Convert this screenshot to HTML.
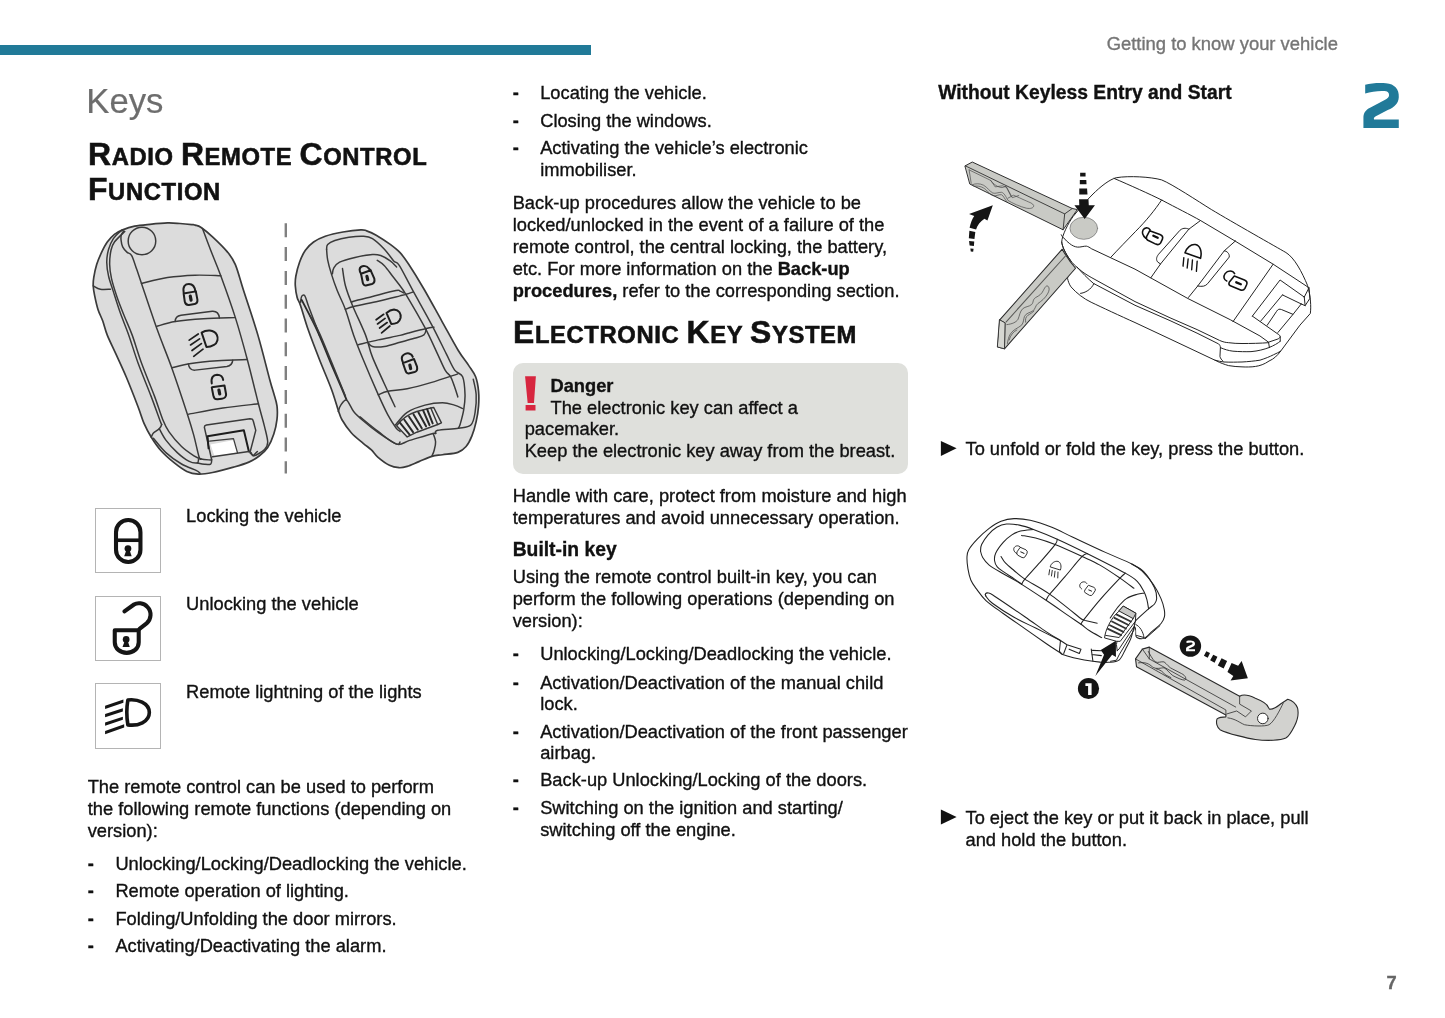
<!DOCTYPE html>
<html><head><meta charset="utf-8">
<style>
html,body{margin:0;padding:0;background:#fff;}
body{width:1445px;height:1018px;position:relative;overflow:hidden;font-family:"Liberation Sans",sans-serif;color:#111;}
.t{position:absolute;white-space:nowrap;font-size:18px;line-height:22px;height:22px;-webkit-text-stroke:0.35px currentColor;}
.b{font-weight:bold;}
.h{position:absolute;white-space:nowrap;font-weight:bold;transform-origin:0 0;transform:scaleX(1);-webkit-text-stroke:0.55px #111;letter-spacing:0.6px;}
.box{position:absolute;width:64px;height:63.6px;border:1px solid #b4b4b4;background:#fff;}
svg{position:absolute;overflow:visible;}
</style></head><body>
<div style="position:absolute;left:0;top:45.4px;width:590.7px;height:9.6px;background:#217a98"></div>
<div id="txt" style="position:absolute;left:0;top:0;width:1445px;height:1018px;will-change:transform;">
<div class="t " style="left:86.3px;top:80.68px;font-size:34.7px;color:#6d6d6d;height:40px;line-height:40px;-webkit-text-stroke:0.2px currentColor;">Keys</div>
<div class="t " style="left:186.1px;top:505.17px;font-size:18.27px;">Locking the vehicle</div>
<div class="t " style="left:186.1px;top:593.47px;font-size:18.27px;">Unlocking the vehicle</div>
<div class="t " style="left:186.1px;top:680.87px;font-size:18.27px;">Remote lightning of the lights</div>
<div class="t " style="left:87.7px;top:775.77px;font-size:18.27px;">The remote control can be used to perform</div>
<div class="t " style="left:87.7px;top:797.77px;font-size:18.27px;">the following remote functions (depending on</div>
<div class="t " style="left:87.7px;top:819.77px;font-size:18.27px;">version):</div>
<div class="t b" style="left:87.7px;top:852.67px;font-size:18.27px;">-</div>
<div class="t " style="left:115.4px;top:852.67px;font-size:18.27px;">Unlocking/Locking/Deadlocking the vehicle.</div>
<div class="t b" style="left:87.7px;top:880.17px;font-size:18.27px;">-</div>
<div class="t " style="left:115.4px;top:880.17px;font-size:18.27px;">Remote operation of lighting.</div>
<div class="t b" style="left:87.7px;top:907.67px;font-size:18.27px;">-</div>
<div class="t " style="left:115.4px;top:907.67px;font-size:18.27px;">Folding/Unfolding the door mirrors.</div>
<div class="t b" style="left:87.7px;top:935.17px;font-size:18.27px;">-</div>
<div class="t " style="left:115.4px;top:935.17px;font-size:18.27px;">Activating/Deactivating the alarm.</div>
<div class="t b" style="left:512.7px;top:82.17px;font-size:18.27px;">-</div>
<div class="t " style="left:540.2px;top:82.17px;font-size:18.27px;">Locating the vehicle.</div>
<div class="t b" style="left:512.7px;top:109.87px;font-size:18.27px;">-</div>
<div class="t " style="left:540.2px;top:109.87px;font-size:18.27px;">Closing the windows.</div>
<div class="t b" style="left:512.7px;top:137.47px;font-size:18.27px;">-</div>
<div class="t " style="left:540.2px;top:137.47px;font-size:18.27px;">Activating the vehicle’s electronic</div>
<div class="t " style="left:540.2px;top:159.27px;font-size:18.27px;">immobiliser.</div>
<div class="t " style="left:512.7px;top:192.17px;font-size:18.27px;">Back-up procedures allow the vehicle to be</div>
<div class="t " style="left:512.7px;top:214.17px;font-size:18.27px;">locked/unlocked in the event of a failure of the</div>
<div class="t " style="left:512.7px;top:236.17px;font-size:18.27px;">remote control, the central locking, the battery,</div>
<div class="t " style="left:512.7px;top:258.17px;font-size:18.27px;">etc. For more information on the <b>Back-up</b></div>
<div class="t " style="left:512.7px;top:280.17px;font-size:18.27px;"><b>procedures,</b> refer to the corresponding section.</div>
<div style="position:absolute;left:513px;top:363px;width:395px;height:111px;border-radius:10px;background:#dfe0dc"></div>
<div class="t b" style="left:550.5px;top:375.07px;font-size:18.27px;">Danger</div>
<div class="t " style="left:550.5px;top:396.77px;font-size:18.27px;">The electronic key can affect a</div>
<div class="t " style="left:524.7px;top:418.47px;font-size:18.27px;">pacemaker.</div>
<div class="t " style="left:524.7px;top:440.17px;font-size:18.27px;">Keep the electronic key away from the breast.</div>
<div class="t " style="left:512.7px;top:484.67px;font-size:18.27px;">Handle with care, protect from moisture and high</div>
<div class="t " style="left:512.7px;top:506.67px;font-size:18.27px;">temperatures and avoid unnecessary operation.</div>
<div class="t b" style="left:512.7px;top:539.21px;font-size:19.3px;">Built-in key</div>
<div class="t " style="left:512.7px;top:566.47px;font-size:18.27px;">Using the remote control built-in key, you can</div>
<div class="t " style="left:512.7px;top:588.47px;font-size:18.27px;">perform the following operations (depending on</div>
<div class="t " style="left:512.7px;top:610.47px;font-size:18.27px;">version):</div>
<div class="t b" style="left:512.7px;top:643.37px;font-size:18.27px;">-</div>
<div class="t " style="left:540.2px;top:643.37px;font-size:18.27px;">Unlocking/Locking/Deadlocking the vehicle.</div>
<div class="t b" style="left:512.7px;top:671.57px;font-size:18.27px;">-</div>
<div class="t " style="left:540.2px;top:671.57px;font-size:18.27px;">Activation/Deactivation of the manual child</div>
<div class="t " style="left:540.2px;top:693.07px;font-size:18.27px;">lock.</div>
<div class="t b" style="left:512.7px;top:720.67px;font-size:18.27px;">-</div>
<div class="t " style="left:540.2px;top:720.67px;font-size:18.27px;">Activation/Deactivation of the front passenger</div>
<div class="t " style="left:540.2px;top:742.17px;font-size:18.27px;">airbag.</div>
<div class="t b" style="left:512.7px;top:769.17px;font-size:18.27px;">-</div>
<div class="t " style="left:540.2px;top:769.17px;font-size:18.27px;">Back-up Unlocking/Locking of the doors.</div>
<div class="t b" style="left:512.7px;top:797.17px;font-size:18.27px;">-</div>
<div class="t " style="left:540.2px;top:797.17px;font-size:18.27px;">Switching on the ignition and starting/</div>
<div class="t " style="left:540.2px;top:819.17px;font-size:18.27px;">switching off the engine.</div>
<div class="t " style="left:1106.7px;top:32.62px;font-size:18.42px;color:#757575;">Getting to know your vehicle</div>
<div class="t b" style="left:938.2px;top:81.81px;font-size:19.3px;">Without Keyless Entry and Start</div>
<div class="t " style="left:965.5px;top:438.37px;font-size:18.27px;">To unfold or fold the key, press the button.</div>
<div class="t " style="left:965.5px;top:807.17px;font-size:18.27px;">To eject the key or put it back in place, pull</div>
<div class="t " style="left:965.5px;top:828.87px;font-size:18.27px;">and hold the button.</div>
<div class="t b" style="left:1386.5px;top:971.57px;font-size:18.27px;color:#666;">7</div>
<div class="h" data-w="337" style="left:87.6px;top:135.03px;line-height:40px;height:40px;transform:scaleX(1.035);"><span style="font-size:30.8px">R</span><span style="font-size:23.0px">ADIO </span><span style="font-size:30.8px">R</span><span style="font-size:23.0px">EMOTE </span><span style="font-size:30.8px">C</span><span style="font-size:23.0px">ONTROL</span></div>
<div class="h" data-w="0" style="left:87.6px;top:170.03px;line-height:40px;height:40px;transform:scaleX(1.035);"><span style="font-size:30.8px">F</span><span style="font-size:23.0px">UNCTION</span></div>
<div class="h" data-w="341" style="left:512.6px;top:313.13px;line-height:40px;height:40px;transform:scaleX(1.035);"><span style="font-size:30.8px">E</span><span style="font-size:23.0px">LECTRONIC </span><span style="font-size:30.8px">K</span><span style="font-size:23.0px">EY </span><span style="font-size:30.8px">S</span><span style="font-size:23.0px">YSTEM</span></div>
<div class="box" style="left:95.1px;top:507.9px"></div>
<div class="box" style="left:95.1px;top:595.9px"></div>
<div class="box" style="left:95.1px;top:683.2px"></div>
</div>
<svg width="1445" height="1018" viewBox="0 0 1445 1018" style="left:0;top:0" fill="none" stroke-linecap="round" stroke-linejoin="round">
<line x1="285.8" y1="223.3" x2="285.8" y2="473.6" stroke="#808080" stroke-width="2.4" stroke-dasharray="14 9.8" stroke-linecap="butt"/>
<g transform="translate(85,215) scale(0.26518)" stroke="#3a3a3a" stroke-width="5.6">
<path fill="#dcdcdc" stroke-width="6.4" d="M415.0,38.0 C409.2,36.2 412.5,37.0 403.0,36.0 C393.5,35.0 373.3,33.0 358.0,32.0 C342.7,31.0 329.8,29.5 311.0,30.0 C292.2,30.5 265.7,33.0 245.0,35.0 C224.3,37.0 204.2,38.5 187.0,42.0 C169.8,45.5 154.7,50.8 142.0,56.0 C129.3,61.2 120.7,65.3 111.0,73.0 C101.3,80.7 92.2,90.5 84.0,102.0 C75.8,113.5 68.7,127.8 62.0,142.0 C55.3,156.2 48.8,171.3 44.0,187.0 C39.2,202.7 35.2,222.7 33.0,236.0 C30.8,249.3 30.5,256.0 31.0,267.0 C31.5,278.0 33.0,287.2 36.0,302.0 C39.0,316.8 43.8,339.7 49.0,356.0 C54.2,372.3 61.2,383.8 67.0,400.0 C72.8,416.2 75.8,432.5 84.0,453.0 C92.2,473.5 104.0,496.5 116.0,523.0 C128.0,549.5 142.0,578.7 156.0,612.0 C170.0,645.3 188.8,693.8 200.0,723.0 C211.2,752.2 214.7,767.8 223.0,787.0 C231.3,806.2 239.5,821.2 250.0,838.0 C260.5,854.8 271.5,871.8 286.0,888.0 C300.5,904.2 320.7,921.8 337.0,935.0 C353.3,948.2 369.0,960.0 384.0,967.0 C399.0,974.0 410.8,976.3 427.0,977.0 C443.2,977.7 458.8,975.3 481.0,971.0 C503.2,966.7 537.2,957.5 560.0,951.0 C582.8,944.5 601.7,939.2 618.0,932.0 C634.3,924.8 646.2,917.2 658.0,908.0 C669.8,898.8 680.0,890.7 689.0,877.0 C698.0,863.3 706.2,843.7 712.0,826.0 C717.8,808.3 722.0,788.7 724.0,771.0 C726.0,753.3 726.0,736.3 724.0,720.0 C722.0,703.7 716.5,689.3 712.0,673.0 C707.5,656.7 707.0,658.7 697.0,622.0 C687.0,585.3 668.5,509.2 652.0,453.0 C635.5,396.8 612.2,329.3 598.0,285.0 C583.8,240.7 577.3,211.5 567.0,187.0 C556.7,162.5 550.0,155.2 536.0,138.0 C522.0,120.8 499.3,99.2 483.0,84.0 C466.7,68.8 449.3,54.7 438.0,47.0 C426.7,39.3 420.8,39.8 415.0,38.0 Z"/>
<path d="M31.0,267.0 C35.5,269.2 47.2,277.8 58.0,280.0 C68.8,282.2 89.7,280.0 96.0,280.0"/>
<path d="M142.0,56.0 C140.5,57.0 138.8,56.5 133.0,62.0 C127.2,67.5 114.3,77.8 107.0,89.0 C99.7,100.2 93.2,114.2 89.0,129.0 C84.8,143.8 82.0,161.0 82.0,178.0 C82.0,195.0 84.8,212.5 89.0,231.0 C93.2,249.5 99.7,266.0 107.0,289.0 C114.3,312.0 123.3,341.7 133.0,369.0 C142.7,396.3 153.8,421.5 165.0,453.0 C176.2,484.5 186.0,519.7 200.0,558.0 C214.0,596.3 234.8,645.8 249.0,683.0 C263.2,720.2 278.3,763.2 285.0,781.0 C291.7,798.8 289.8,785.8 289.0,790.0 C288.2,794.2 285.2,800.7 280.0,806.0 C274.8,811.3 263.0,816.7 258.0,822.0 C253.0,827.3 251.3,835.3 250.0,838.0"/>
<path d="M150.0,62.0 C143.5,68.7 119.7,90.2 111.0,102.0 C102.3,113.8 101.0,118.8 98.0,133.0 C95.0,147.2 92.7,169.2 93.0,187.0 C93.3,204.8 95.5,220.0 100.0,240.0 C104.5,260.0 112.2,284.0 120.0,307.0 C127.8,330.0 137.3,353.7 147.0,378.0 C156.7,402.3 167.0,423.0 178.0,453.0 C189.0,483.0 199.0,519.7 213.0,558.0 C227.0,596.3 248.7,647.5 262.0,683.0 C275.3,718.5 283.8,748.5 293.0,771.0 C302.2,793.5 305.2,801.0 317.0,818.0 C328.8,835.0 348.3,858.0 364.0,873.0 C379.7,888.0 398.7,900.2 411.0,908.0 C423.3,915.8 427.5,917.3 438.0,920.0 C448.5,922.7 468.0,923.3 474.0,924.0"/>
<path d="M280.0,806.0 C284.2,813.2 293.7,834.0 305.0,849.0 C316.3,864.0 333.7,882.8 348.0,896.0 C362.3,909.2 378.5,921.5 391.0,928.0 C403.5,934.5 416.8,936.0 423.0,935.0 C429.2,934.0 427.2,924.2 428.0,922.0"/>
<path d="M423.0,935.0 C427.5,935.8 441.5,939.3 450.0,940.0 C458.5,940.7 469.3,942.0 474.0,939.0 C478.7,936.0 477.3,924.8 478.0,922.0"/>
<path d="M258.0,842.0 C265.8,851.0 287.3,879.8 305.0,896.0 C322.7,912.2 345.0,927.8 364.0,939.0 C383.0,950.2 407.3,957.2 419.0,963.0 C430.7,968.8 431.5,972.2 434.0,974.0"/>
<path d="M146.0,60.0 C144.5,62.5 138.7,69.2 137.0,75.0 C135.3,80.8 135.2,87.5 136.0,95.0 C136.8,102.5 138.3,112.5 142.0,120.0 C145.7,127.5 152.3,134.5 158.0,140.0 C163.7,145.5 169.8,142.2 176.0,153.0 C182.2,163.8 188.8,187.5 195.0,205.0 C201.2,222.5 200.0,219.8 213.0,258.0 C226.0,296.2 254.0,381.0 273.0,434.0 C292.0,487.0 308.0,522.7 327.0,576.0 C346.0,629.3 373.2,711.7 387.0,754.0 C400.8,796.3 402.8,803.7 410.0,830.0 C417.2,856.3 425.3,897.0 430.0,912.0 C434.7,927.0 436.7,918.7 438.0,920.0"/>
<path d="M443.0,51.0 C448.2,64.7 462.5,103.3 474.0,133.0 C485.5,162.7 496.5,186.7 512.0,229.0 C527.5,271.3 550.3,334.3 567.0,387.0 C583.7,439.7 597.5,490.8 612.0,545.0 C626.5,599.2 643.2,669.8 654.0,712.0 C664.8,754.2 671.2,773.8 677.0,798.0 C682.8,822.2 689.0,842.7 689.0,857.0 C689.0,871.3 685.5,875.5 677.0,884.0 C668.5,892.5 646.5,906.0 638.0,908.0 C629.5,910.0 628.0,898.0 626.0,896.0"/>
<circle cx="214.8" cy="97.8" r="52"/>
<path d="M213.0,258.0 C229.3,254.3 277.3,241.2 311.0,236.0 C344.7,230.8 381.5,228.2 415.0,227.0 C448.5,225.8 495.8,228.7 512.0,229.0"/>
<path d="M270.0,420.0 C281.7,417.0 310.5,406.8 340.0,402.0 C369.5,397.2 409.2,393.5 447.0,391.0 C484.8,388.5 547.0,387.7 567.0,387.0"/>
<path d="M340,402 C340,388 348,380 362,378 L480,363 C496,362 505,372 507,388"/>
<path d="M327.0,576.0 C339.2,573.3 371.2,564.3 400.0,560.0 C428.8,555.7 464.7,552.5 500.0,550.0 C535.3,547.5 593.3,545.8 612.0,545.0"/>
<path d="M390,562 C392,578 400,586 415,585 L535,571 C550,568 556,560 557,548"/>
<path d="M391.0,751.0 C412.5,747.2 476.2,734.5 520.0,728.0 C563.8,721.5 631.7,714.7 654.0,712.0"/>
<path d="M477,920 L450,800 C450,795 453,793 458,792 L622,768 C630,768 633,770 634,775 L644,812 L622,896 L634,908 L650,892"/>
<path d="M473,865 L558,849 L572,896 L489,911 Z" fill="#fff" stroke="none"/>
<path d="M466,880 L462,834 L599,812 L618,892" stroke-width="7.5" stroke="#1c1c1c"/>
<path d="M470,853 L560,843 L575,896" stroke-width="4.6"/>
<path d="M481,912 L618,892"/>
<g stroke="#1e1e1e" stroke-width="7.6">
<path d="M372,292 C368,268 378,260 392,260 C406,260 414,270 416,288"/>
<path d="M372,296 L418,288 L424,320 C425,330 418,336 408,337 L392,339 C382,340 378,335 376,325 Z"/>
<path d="M397,306 L400,321" stroke-width="12"/>
<path d="M439.8,443.4 C450,437 462,435 470.9,435.6 C484,437 493,444 496.9,451.2 C500,458 501,466 499.5,471.9 C497,481 492,487 486.5,490.1 C478,495 468,498 458,497.9 Z"/>
<path d="M393,472 L427,448.6 M398,490 L432,467 M403.5,511 L439,485 M410,533 L445,506" stroke-width="6.5"/>
<path d="M478,635 C474,612 484,603 498,602 C512,602 520,612 521,622"/>
<path d="M478,650 L526,643 L532,676 C533,686 526,692 516,693 L500,695 C490,696 486,691 484,681 Z"/>
<path d="M505,660 L508,675" stroke-width="12"/>
</g>
</g></svg><svg width="1445" height="1018" viewBox="0 0 1445 1018" style="left:0;top:0" fill="none" stroke-linecap="round" stroke-linejoin="round">
<g transform="translate(290,215) scale(0.26518)" stroke="#3a3a3a" stroke-width="5.6">
<path fill="#dcdcdc" stroke-width="6.4" d="M20.0,267.0 C19.2,253.7 19.3,245.8 22.0,231.0 C24.7,216.2 30.0,194.3 36.0,178.0 C42.0,161.7 49.2,145.7 58.0,133.0 C66.8,120.3 76.5,110.8 89.0,102.0 C101.5,93.2 114.5,86.3 133.0,80.0 C151.5,73.7 177.7,68.0 200.0,64.0 C222.3,60.0 252.2,56.7 267.0,56.0 C281.8,55.3 279.3,56.7 289.0,60.0 C298.7,63.3 310.2,67.5 325.0,76.0 C339.8,84.5 363.0,100.0 378.0,111.0 C393.0,122.0 403.5,129.7 415.0,142.0 C426.5,154.3 432.0,162.2 447.0,185.0 C462.0,207.8 484.2,243.3 505.0,279.0 C525.8,314.7 550.5,360.5 572.0,399.0 C593.5,437.5 617.2,482.2 634.0,510.0 C650.8,537.8 662.0,549.3 673.0,566.0 C684.0,582.7 693.7,593.7 700.0,610.0 C706.3,626.3 709.2,645.5 711.0,664.0 C712.8,682.5 712.5,701.8 711.0,721.0 C709.5,740.2 706.2,760.3 702.0,779.0 C697.8,797.7 692.3,817.3 686.0,833.0 C679.7,848.7 672.8,862.7 664.0,873.0 C655.2,883.3 647.8,889.8 633.0,895.0 C618.2,900.2 591.3,901.5 575.0,904.0 C558.7,906.5 549.8,905.7 535.0,910.0 C520.2,914.3 501.5,923.7 486.0,930.0 C470.5,936.3 454.5,944.2 442.0,948.0 C429.5,951.8 422.2,953.7 411.0,953.0 C399.8,952.3 388.3,950.7 375.0,944.0 C361.7,937.3 342.3,922.7 331.0,913.0 C319.7,903.3 316.2,894.7 307.0,886.0 C297.8,877.3 288.7,871.8 276.0,861.0 C263.3,850.2 244.3,835.8 231.0,821.0 C217.7,806.2 204.2,786.2 196.0,772.0 C187.8,757.8 188.7,755.3 182.0,736.0 C175.3,716.7 167.8,687.8 156.0,656.0 C144.2,624.2 125.5,582.0 111.0,545.0 C96.5,508.0 80.8,467.8 69.0,434.0 C57.2,400.2 47.0,362.5 40.0,342.0 C33.0,321.5 30.3,323.5 27.0,311.0 C23.7,298.5 20.8,280.3 20.0,267.0 Z"/>
<path d="M138.0,129.0 C138.7,126.0 136.8,116.5 142.0,111.0 C147.2,105.5 155.7,100.5 169.0,96.0 C182.3,91.5 204.2,86.7 222.0,84.0 C239.8,81.3 261.2,79.2 276.0,80.0 C290.8,80.8 297.7,80.8 311.0,89.0 C324.3,97.2 342.7,115.0 356.0,129.0 C369.3,143.0 381.7,162.8 391.0,173.0 C400.3,183.2 399.7,170.8 412.0,190.0 C424.3,209.2 444.3,250.2 465.0,288.0 C485.7,325.8 515.3,377.8 536.0,417.0 C556.7,456.2 574.8,495.0 589.0,523.0 C603.2,551.0 610.7,570.5 621.0,585.0 C631.3,599.5 644.5,594.7 651.0,610.0 C657.5,625.3 659.3,656.2 660.0,677.0 C660.7,697.8 658.0,716.5 655.0,735.0 C652.0,753.5 645.3,776.5 642.0,788.0 C638.7,799.5 636.2,801.3 635.0,804.0"/>
<path d="M138.0,129.0 C138.7,135.7 139.0,153.5 142.0,169.0 C145.0,184.5 150.0,202.7 156.0,222.0 C162.0,241.3 169.2,262.7 178.0,285.0 C186.8,307.3 198.7,328.0 209.0,356.0 C219.3,384.0 228.8,421.5 240.0,453.0 C251.2,484.5 261.2,509.0 276.0,545.0 C290.8,581.0 313.5,634.2 329.0,669.0 C344.5,703.8 357.2,731.7 369.0,754.0 C380.8,776.3 392.3,792.7 400.0,803.0 C407.7,813.3 412.5,813.8 415.0,816.0"/>
<path d="M160.0,222.0 C160.8,218.3 160.5,207.3 165.0,200.0 C169.5,192.7 173.7,184.7 187.0,178.0 C200.3,171.3 224.3,164.8 245.0,160.0 C265.7,155.2 294.8,150.2 311.0,149.0 C327.2,147.8 330.8,149.0 342.0,153.0 C353.2,157.0 368.0,165.8 378.0,173.0 C388.0,180.2 398.0,192.2 402.0,196.0"/>
<path d="M329.0,171.0 C333.5,174.3 346.3,181.0 356.0,191.0 C365.7,201.0 377.2,218.3 387.0,231.0 C396.8,243.7 406.5,255.3 415.0,267.0 C423.5,278.7 422.3,274.7 438.0,301.0 C453.7,327.3 489.7,388.7 509.0,425.0 C528.3,461.3 541.3,492.3 554.0,519.0 C566.7,545.7 576.3,569.8 585.0,585.0 C593.7,600.2 600.2,599.8 606.0,610.0 C611.8,620.2 615.5,633.3 620.0,646.0 C624.5,658.7 630.8,679.3 633.0,686.0"/>
<path d="M198.0,202.0 C199.8,212.8 202.7,243.7 209.0,267.0 C215.3,290.3 223.3,311.0 236.0,342.0 C248.7,373.0 272.5,420.7 285.0,453.0 C297.5,485.3 297.0,500.7 311.0,536.0 C325.0,571.3 354.8,633.8 369.0,665.0 C383.2,696.2 391.5,713.3 396.0,723.0"/>
<path d="M232.0,330.0 C233.3,329.2 226.8,328.8 240.0,325.0 C253.2,321.2 284.3,313.7 311.0,307.0 C337.7,300.3 382.7,288.3 400.0,285.0 C417.3,281.7 410.2,285.5 415.0,287.0 C419.8,288.5 426.7,292.8 429.0,294.0"/>
<path d="M209.0,356.0 C214.2,354.2 219.3,350.2 240.0,345.0 C260.7,339.8 303.8,331.7 333.0,325.0 C362.2,318.3 397.5,309.3 415.0,305.0 C432.5,300.7 429.7,301.5 438.0,299.0 C446.3,296.5 460.5,291.5 465.0,290.0"/>
<path d="M258.0,489.0 C270.5,486.0 306.8,476.8 333.0,471.0 C359.2,465.2 396.0,458.3 415.0,454.0 C434.0,449.7 430.5,449.3 447.0,445.0 C463.5,440.7 498.0,431.7 514.0,428.0 C530.0,424.3 538.2,423.8 543.0,423.0"/>
<path d="M293.0,480.0 C296.0,482.7 300.5,493.3 311.0,496.0 C321.5,498.7 338.7,498.7 356.0,496.0 C373.3,493.3 396.2,485.2 415.0,480.0 C433.8,474.8 454.0,469.7 469.0,465.0 C484.0,460.3 497.5,457.8 505.0,452.0 C512.5,446.2 512.5,433.7 514.0,430.0"/>
<path d="M333.0,678.0 C339.0,675.8 350.8,668.8 369.0,665.0 C387.2,661.2 415.0,660.5 442.0,655.0 C469.0,649.5 499.2,641.3 531.0,632.0 C562.8,622.7 616.0,604.5 633.0,599.0"/>
<path d="M40.0,329.0 C40.7,325.3 41.3,311.0 44.0,307.0 C46.7,303.0 51.5,298.3 56.0,305.0 C60.5,311.7 61.8,322.3 71.0,347.0 C80.2,371.7 104.3,435.3 111.0,453.0"/>
<path d="M44.0,320.0 C53.7,339.0 83.3,393.5 102.0,434.0 C120.7,474.5 140.3,526.0 156.0,563.0 C171.7,600.0 186.5,633.8 196.0,656.0 C205.5,678.2 210.2,689.3 213.0,696.0" stroke-width="7" stroke="#2a2a2a"/>
<path d="M75.0,380.0 C81.3,391.7 90.7,399.5 113.0,450.0 C135.3,500.5 193.0,644.2 209.0,683.0"/>
<path d="M182.0,741.0 C183.5,737.2 185.8,725.2 191.0,718.0 C196.2,710.8 204.8,694.2 213.0,698.0 C221.2,701.8 229.5,728.0 240.0,741.0 C250.5,754.0 260.5,762.7 276.0,776.0 C291.5,789.3 312.3,806.5 333.0,821.0 C353.7,835.5 386.3,857.2 400.0,863.0 C413.7,868.8 412.5,857.2 415.0,856.0"/>
<path d="M691.0,619.0 C692.8,628.7 700.8,656.2 702.0,677.0 C703.2,697.8 701.3,724.8 698.0,744.0 C694.7,763.2 692.5,782.0 682.0,792.0 C671.5,802.0 655.8,800.7 635.0,804.0 C614.2,807.3 571.3,808.7 557.0,812.0 C542.7,815.3 550.3,822.0 549.0,824.0"/>
<path d="M264.0,761.0 C275.2,770.0 308.0,797.8 331.0,815.0 C354.0,832.2 382.0,858.2 402.0,864.0 C422.0,869.8 428.0,856.7 451.0,850.0 C474.0,843.3 523.7,828.3 540.0,824.0 C556.3,819.7 547.5,824.0 549.0,824.0"/>
<path d="M540.0,824.0 C541.5,829.2 548.3,844.7 549.0,855.0 C549.7,865.3 546.3,876.8 544.0,886.0 C541.7,895.2 536.5,906.0 535.0,910.0"/>
<path d="M397.0,792.0 C404.5,784.0 423.3,756.5 442.0,744.0 C460.7,731.5 486.8,723.0 509.0,717.0 C531.2,711.0 556.5,708.0 575.0,708.0 C593.5,708.0 607.3,713.3 620.0,717.0 C632.7,720.7 645.8,727.8 651.0,730.0"/>
<path d="M402,795 C420,770 450,750 478,741 L531,728 L542,726 L571,784 L557,790 L478,819 L442,837 Z" fill="#e6e6e6"/>
<path d="M531,728 L557,790"/>
<path d="M415,784 L451,828 M431,772 L464,819 M449,761 L482,810 M466,752 L497,804 M484,744 L513,797 M502,737 L526,792 M517,732 L538,786" stroke="#2a2a2a" stroke-width="7.5"/>
<g stroke="#1e1e1e" stroke-width="7.6">
<path d="M267.8,221.5 L304.1,208.6 L318,240 C320,250 316,258 309,260.4 L286,265.6 C278,267 274,258 273,247.5 Z"/>
<path d="M267.8,221.5 C262,212 260,202 267.8,195.6 C276,190 290,192 296.3,200.8 C300,205 303,208 304.1,209"/>
<path d="M290,231 L293,244" stroke-width="12"/>
<path d="M363.7,369.3 C372,362 382,357 392.2,356.3 C402,357 409,361 412.9,366.7 C417,373 418,381 417.1,387.4 C415,396 411,402 405.2,405.6 C398,409 390,411 381.8,410.8 Z"/>
<path d="M324.8,395.2 L353.3,374.5 M330,410.8 L358.5,390 M337.8,426.3 L366.3,405.6 M345.5,444.5 L376.6,418.5" stroke-width="6.5"/>
<path d="M425.9,558.5 L467.4,543 L479,572 C481,582 477,590 470,592.2 L447,597.4 C440,598 436,590 433.7,581.8 Z"/>
<path d="M425.9,556 C421,545 420,538 423.3,532.6 C428,525 440,520 449.2,522.2 C456,524 461,528 463,535"/>
<path d="M452,566 L455,579" stroke-width="12"/>
</g>
</g></svg><svg width="1445" height="1018" viewBox="0 0 1445 1018" style="left:0;top:0" fill="none" stroke-linecap="round" stroke-linejoin="round">
<!-- FOB body : crop (1060,160) scale 1/4.626 -->
<g transform="translate(1060,160) scale(0.21617)" stroke="#222" stroke-width="4.6">
  <path fill="#fff" d="M150,160 C190,120 230,90 260,82 C320,72 420,78 470,92 C520,112 640,192 700,229 C800,289 1000,402 1045,428 C1085,452 1120,520 1145,580 C1160,630 1162,680 1158,710 L1110,764 L1021,884 C1005,905 990,920 967,930 C945,945 925,952 904,955 C885,958 860,958 842,957 C820,956 800,955 779,951 C760,945 740,938 725,930 L509,828 L347,752 C280,722 190,680 144,658 C110,642 75,615 51,587 C42,575 38,560 35,549 L46,461 C25,430 10,400 8,380 C8,350 40,290 60,262 C90,225 120,190 150,160 Z"/>
  <ellipse cx="110" cy="316" rx="64" ry="51" fill="#c9cac5" stroke="#777" stroke-width="3.5"/>
  <!-- top face front edge + arm end -->
  <path d="M6,346 C10,355 14,358 17,360 C25,370 35,380 45,387 C55,395 68,402 81,403 C95,404 110,398 122,398.5 C130,400 138,405 144.5,410 L347,505 L592,641 L788,739 L925,814 L964.6,842.8 L1008,828 C1014,825 1018,822 1018.7,817.8 C1018,812 1014,808 1008.3,805.3 L889.7,722.1"/>
  <path d="M964.6,842.8 L968.8,867.8"/>
  <path d="M1018.7,817.8 L1018.7,838.6"/>
  <!-- L2 -->
  <path d="M8,380 C10,400 25,435 46,461 C60,480 75,495 89,505 C105,520 125,532 144,543 L347,655 L509,730 L634,784.5 L738,834.5 C755,842 765,844 779,845 C800,848 820,849 842,849 C880,849 930,848 964.6,845"/>
  <!-- L3 -->
  <path d="M78,494 C100,520 130,550 155,571 L347,672 L509,743 L634,801 L734,851 C740,856 742,862 742,868 L740,909 C742,918 748,925 754,930"/>
  <path d="M742,868 C760,876 780,882 800,884.4 C830,887 860,887 883.5,886.5 C915,884 945,876 966.7,867.8 C990,858 1008,848 1018.7,838.6"/>
  <path d="M717,926 C730,930 745,933 758.6,934.4 C790,936 815,935 842,934.4 C870,933 900,930 925,926 C950,918 970,910 987.5,901 C1000,895 1012,890 1020.8,884.4"/>
  <path d="M95,617 C115,615 145,600 157,571"/>
  <!-- top face back edge -->
  <path d="M250,85 C320,115 420,160 470,185 C540,222 600,252 650,280 L810,375 L986,482 L1152,591 L1156,640 L1134,674 L1130,634" />
  <path d="M1130,634 L1018,555 L890,722"/>
  <path d="M1130,634 L1152,591" />
  <path d="M1029,624 L928,746 M1029,624 L1116,666 M1116,666 L1134,674" />
  <path d="M958,765 L1002,700 C1008,690 1015,688 1025,692 L1078,714 L1116,666 M1078,714 L1008,798"/>
  <!-- dividers -->
  <path d="M470,185 C440,230 400,280 350,330 C310,372 270,412 235,450"/>
  <path d="M650,280 L596,320 L465,481 L420,545"/>
  <path d="M596,320 C580,312 565,316 555,325 L456,436 C445,450 444,462 452,472 L465,481"/>
  <path d="M812,374 L760,420 L637,583 L594,636"/>
  <path d="M760,420 C771,420 785,432 783,449 L683,572 C672,584 660,587 637,583"/>
  <path d="M986,482 L800,748"/>
</g>
<!-- lower blade : crop (985,235) scale 1/8.48 -->
<g transform="translate(985,235) scale(0.117925)" stroke="#2a2a2a" stroke-width="9">
  <path fill="#c9cac5" d="M655,120 Q705,210 768,282 L165,965 L108,950 L125,720 Z"/>
  <path d="M125,720 L170,745 L165,965" stroke-width="7"/>
  <path d="M125,720 L170,745 L165,965 L108,950 Z" fill="#d6d7d2" stroke="none"/>
  <path d="M125,720 L170,745 L165,965 L108,950 Z" stroke-width="7"/>
  <path d="M178,738 L682,178" stroke="#5a5a58" stroke-width="9"/>
  <path d="M185,760 C230,755 265,740 280,715 C295,680 295,650 320,625 C345,605 370,610 395,590 C415,570 400,550 430,530 C460,515 480,500 495,470 C510,440 520,425 535,435 C550,450 545,475 530,500 C510,535 480,560 450,580 C425,600 430,625 405,645 C380,660 350,660 335,690 C325,715 330,740 310,765 C280,790 240,800 215,840 C200,865 195,890 190,920" stroke-width="6" stroke="#444"/>
  <path d="M345,740 C340,715 345,695 365,680 C385,668 400,660 415,645" stroke-width="6" stroke="#444"/>
  <path d="M205,890 C215,850 240,820 270,805" stroke-width="6" stroke="#444"/>
</g>
<!-- upper blade : crop (955,155) scale 1/9.253 -->
<g transform="translate(955,155) scale(0.108073)" stroke="#2a2a2a" stroke-width="9">
  <path fill="#c9cac5" d="M95,100 L160,65 L1085,495 L1132,505 L1000,692 L140,270 Z"/>
  <path d="M95,100 L1015,545 L1085,495 M1015,545 L1000,692" stroke-width="8"/>
  <path d="M130,135 L150,262 M135,140 L330,235 C350,262 380,290 420,300 C440,305 455,295 470,290" stroke-width="6" stroke="#444"/>
  <path d="M160,275 C190,262 230,262 265,280 C300,300 320,335 350,352 C375,360 400,345 430,345 C455,350 470,385 490,420 C530,445 600,478 660,492 C700,500 730,490 728,468 C720,445 690,440 660,425 C620,408 575,385 540,372 C520,380 505,395 490,400" stroke-width="6" stroke="#444"/>
  <path d="M175,290 C215,280 255,295 285,320 C310,345 330,372 360,378 C385,380 410,362 432,368 C450,380 462,410 480,432" stroke-width="6" stroke="#444"/>
  <path d="M330,235 L372,295 L440,285 L480,300 L530,395 L590,375 M470,290 L520,385" stroke-width="6" stroke="#444"/>
</g>
<!-- icons : crop (1130,210) scale 1/10.18 -->
<g transform="translate(1130,210) scale(0.09823)" stroke="#111" stroke-width="16">
  <path d="M200,212 L305,250 Q342,265 330,297 L312,335 Q296,362 262,347 L182,308 Q158,294 170,268 Z"/>
  <path d="M205,203 C188,172 148,176 132,206 C118,234 132,262 162,288"/>
  <path d="M238,262 L282,282" stroke-width="24"/>
  <path d="M560,436 C575,385 620,345 665,352 C715,362 735,420 718,492 Z"/>
  <path d="M548,485 L540,572 M592,498 L582,590 M636,508 L628,608 M684,520 L676,625" stroke-width="14"/>
  <path d="M1062,672 L1165,712 Q1200,727 1188,758 L1170,798 Q1154,826 1120,812 L1022,772 Q1000,760 1010,735 Z"/>
  <path d="M1065,648 C1045,612 995,612 968,648 C945,680 958,712 985,722"/>
  <path d="M1082,736 L1128,756" stroke-width="24"/>
</g>
<!-- arrows : crop (955,155) scale 1/9.253 -->
<g transform="translate(955,155) scale(0.108073)" fill="#151515" stroke="none">
  <path d="M130,545 L350,465 L300,605 L272,590 C235,615 205,650 195,690 L135,672 C145,630 160,590 178,565 Z"/>
  <path d="M133,700 L188,712 L180,778 L128,770 Z M130,795 L178,800 L175,842 L135,838 Z M142,865 L172,868 L168,896 L146,893 Z"/>
  <path d="M1158,165 L1208,165 L1208,200 L1158,200 Z M1155,232 L1215,232 L1217,270 L1155,270 Z M1150,310 L1222,310 L1226,365 L1150,365 Z M1148,410 L1235,410 L1238,465 L1295,465 L1200,592 L1105,465 L1150,465 Z"/>
</g>
</svg>
<svg width="1445" height="1018" viewBox="0 0 1445 1018" style="left:0;top:0" fill="none" stroke-linecap="round" stroke-linejoin="round">
<!-- SMART KEY body : crop (955,505) scale 1/5.091 -->
<g transform="translate(955,505) scale(0.196425)" stroke="#222" stroke-width="5.4">
<path fill="#fff" d="M61.0,267.5 C61.6,251.5 60.8,244.6 69.5,229.0 C78.2,213.4 96.1,192.3 113.5,174.0 C130.9,155.7 153.8,134.2 174.0,119.0 C194.2,103.8 213.4,91.2 234.5,83.0 C255.6,74.8 275.8,70.4 300.5,69.5 C325.2,68.6 350.9,70.5 383.0,77.8 C415.1,85.1 457.2,99.3 493.0,113.5 C528.8,127.7 552.8,141.9 597.7,163.0 C642.7,184.1 712.3,217.1 762.7,240.0 C813.1,262.9 868.1,284.0 900.2,300.5 C932.3,317.0 936.9,321.6 955.2,339.0 C973.5,356.4 994.6,382.1 1010.2,405.0 C1025.8,427.9 1039.5,455.4 1048.7,476.5 C1057.9,497.6 1062.3,515.9 1065.2,531.5 C1068.1,547.1 1068.5,558.2 1066.0,570.0 C1063.5,581.8 1060.2,590.0 1050.0,602.0 C1039.8,614.0 1019.7,629.2 1005.0,642.0 C990.3,654.8 975.5,673.8 962.0,679.0 C948.5,684.2 930.8,679.5 924.0,673.0 C917.2,666.5 923.0,648.5 921.0,640.0 C919.0,631.5 916.3,615.3 912.0,622.0 C907.7,628.7 902.0,662.0 895.0,680.0 C888.0,698.0 880.0,711.7 870.0,730.0 C860.0,748.3 850.0,778.2 835.0,790.0 C820.0,801.8 796.2,799.4 780.0,801.0 C763.8,802.6 758.3,801.8 738.0,799.8 C717.7,797.8 680.5,792.5 658.0,788.8 C635.5,785.1 621.3,782.4 603.0,777.8 C584.7,773.2 559.9,765.9 548.0,761.3 C536.1,756.7 545.2,759.5 531.5,750.3 C517.8,741.1 494.8,726.5 465.5,706.3 C436.2,686.1 392.2,655.0 355.5,629.3 C318.8,603.6 278.5,576.1 245.5,552.3 C212.5,528.5 180.4,507.4 157.5,486.3 C134.6,465.2 120.8,443.2 108.0,425.8 C95.2,408.4 87.5,398.6 80.5,381.8 C73.5,365.0 69.2,344.1 66.0,325.0 C62.8,305.9 60.4,283.5 61.0,267.5 Z"/>
<path d="M130.0,234.5 C130.9,229.0 129.1,215.2 135.5,201.5 C141.9,187.8 155.7,166.7 168.5,152.0 C181.3,137.3 196.9,122.7 212.5,113.5 C228.1,104.3 242.8,98.8 262.0,97.0 C281.2,95.2 305.1,97.9 328.0,102.5 C350.9,107.1 367.4,112.6 399.5,124.5 C431.6,136.4 474.7,153.4 520.5,174.0 C566.3,194.6 616.8,219.2 674.5,248.0 C732.2,276.8 824.8,323.6 867.0,347.0 C909.2,370.4 912.1,373.3 927.7,388.5 C943.3,403.7 952.5,422.4 960.7,438.0 C968.9,453.6 972.9,466.8 977.0,482.0 C981.1,497.2 984.1,521.2 985.5,529.0"/>
<path d="M130.0,234.5 C131.8,240.0 133.7,255.6 141.0,267.5 C148.3,279.4 156.6,292.2 174.0,306.0 C191.4,319.8 221.7,336.0 245.5,350.0 C269.3,364.0 280.3,367.3 317.0,390.0 C353.7,412.7 422.5,457.6 465.5,486.3 C508.5,515.0 545.7,541.8 575.0,562.0 C604.3,582.2 623.1,594.2 641.5,607.3 C659.9,620.3 667.9,629.0 685.5,640.3 C703.1,651.6 736.8,669.2 747.0,675.0"/>
<path d="M399.5,124.5 C388.5,125.9 351.8,128.2 333.5,132.8 C315.2,137.4 304.2,142.4 289.5,152.0 C274.8,161.6 259.2,174.9 245.5,190.5 C231.8,206.1 214.3,229.9 207.0,245.5 C199.7,261.1 200.2,272.4 201.5,284.0 C202.8,295.6 206.9,305.3 215.0,315.0 C223.1,324.7 235.8,332.0 250.0,342.0 C264.2,352.0 285.2,365.0 300.0,375.0 C314.8,385.0 332.5,397.5 339.0,402.0"/>
<path d="M339.0,154.8 C350.9,157.1 382.1,160.7 410.5,168.5 C438.9,176.3 470.1,185.9 509.5,201.5 C548.9,217.1 608.9,244.6 647.0,262.0 C685.1,279.4 705.9,287.7 738.0,306.0 C770.1,324.3 810.9,352.3 839.7,372.0 C868.5,391.7 899.1,415.3 911.0,424.0"/>
<path d="M234.5,262.0 C238.2,267.5 245.5,283.1 256.5,295.0 C267.5,306.9 284.0,319.8 300.5,333.5 C317.0,347.2 325.2,357.4 355.5,377.5 C385.8,397.6 434.1,420.2 482.0,454.0 C529.9,487.8 616.2,559.0 643.0,580.0"/>
<path d="M643,580 L663,588 L724,601.8"/>
<path d="M520.5,174.0 C518.7,178.6 524.6,181.3 509.5,201.5 C494.4,221.7 455.7,265.7 430.0,295.0 C404.3,324.3 370.7,359.2 355.5,377.5 C340.3,395.8 341.8,400.4 339.0,405.0"/>
<path d="M674.5,248.0 C669.9,250.3 666.1,242.5 647.0,262.0 C627.9,281.5 587.5,332.9 560.0,365.0 C532.5,397.1 497.8,435.0 482.0,454.5 C466.2,474.0 468.2,477.4 465.5,482.0"/>
<path d="M867.0,347.0 C862.5,351.2 860.9,349.8 839.7,372.0 C818.5,394.2 770.8,444.5 740.0,480.0 C709.2,515.5 671.4,563.8 655.0,585.0 C638.6,606.2 643.8,603.6 641.5,607.3"/>
<path d="M960.7,449.0 C955.2,449.9 942.4,449.9 927.7,454.5 C913.0,459.1 889.2,465.5 872.7,476.5 C856.2,487.5 842.5,504.0 828.7,520.5 C815.0,537.0 796.6,566.3 790.2,575.5"/>
<path d="M900.2,300.5 C910.3,306.9 941.5,318.8 960.7,339.0 C980.0,359.2 1004.7,398.6 1015.7,421.5 C1026.7,444.4 1026.7,462.8 1026.7,476.5 C1026.7,490.2 1022.8,495.1 1015.7,504.0 C1008.6,512.9 1000.3,515.5 984.0,530.0 C967.7,544.5 929.8,578.2 918.0,591.0 C906.2,603.8 913.8,604.3 913.0,607.0"/>
<path d="M157.5,464.3 C157.1,462.5 153.0,456.1 154.8,453.3 C156.6,450.6 160.7,446.0 168.5,447.8 C176.3,449.6 170.3,444.1 201.5,464.3 C232.7,484.5 311.5,538.5 355.5,568.8 C399.5,599.0 435.2,625.6 465.5,645.8 C495.8,666.0 525.1,682.5 537.0,689.8"/>
<path d="M154.8,453.3 C155.2,455.1 151.6,456.5 157.5,464.3 C163.4,472.1 166.7,482.1 190.5,500.0 C214.3,517.9 263.8,550.4 300.5,571.5 C337.2,592.6 371.1,606.8 410.5,626.5 C449.9,646.2 515.9,679.2 537.0,689.8"/>
<path d="M537,689.8 L531.5,744.8 L548,761.3 M537,689.8 L570,711.8 L553.5,755.8 M570,711.8 L641.5,733.8 L633,755.8 L581,733.8 M693.7,733.8 L702,794.3 M696.5,761.3 L745,766.8 M700,740 L745,742"/>
</g>
<!-- smart key icons : crop (1000,530) scale 1/12.727 -->
<g transform="translate(1000,530) scale(0.078573)" stroke="#111" stroke-width="11">
  <path d="M262,222 L330,252 Q355,268 345,295 L320,340 Q305,360 280,350 L225,320 Q205,305 215,282 Z"/>
  <path d="M262,222 C240,192 200,195 180,225 C165,250 185,290 215,300"/>
  <path d="M265,278 L305,298" stroke-width="13"/>
  <path d="M640,465 C650,420 700,390 740,400 C775,415 785,460 770,505 Z"/>
  <path d="M632,505 L622,570 M665,515 L655,585 M700,525 L692,600 M738,535 L735,610"/>
  <path d="M1130,705 L1195,730 Q1222,745 1212,770 L1180,820 Q1165,842 1140,832 L1085,800 Q1068,788 1078,768 Z"/>
  <path d="M1105,680 C1090,650 1045,655 1025,680 C1005,710 1015,735 1040,750"/>
  <path d="M1130,762 L1165,778" stroke-width="13"/>
</g>
<!-- knob : crop (1050,590) scale 1/9.255 -->
<g transform="translate(1050,590) scale(0.10805)" stroke="#222" stroke-width="9">
  <path d="M505,440 C510,380 560,260 640,195 L680,150 L795,215 L790,290 L650,475 L620,475 Z" fill="#fff"/>
  <path d="M680,150 L795,215 L770,265 L640,195 Z" fill="#c8c8c6"/>
  <path d="M770,265 L640,440 L515,420" />
  <path d="M618,228 L748,292 M596,258 L726,324 M574,292 L702,356 M554,326 L680,388 M536,360 L658,418" stroke="#333" stroke-width="17"/>
  <path d="M790,290 L780,335 L640,545 L622,562 M780,335 L776,372 L640,600 L615,650 L560,660"/>
  <path d="M620,475 L615,505 L622,562"/>
  <path d="M795,320 C830,335 862,385 870,440 L800,420" fill="#fff"/>
  <path d="M870,440 L880,452 L1018,330"/>
</g>
<!-- key blade + arrow 2 : crop (1110,600) scale 1/5.091 -->
<g transform="translate(1110,600) scale(0.196425)" stroke="#2a2a2a" stroke-width="5.6">
  <path fill="#d2d2cf" d="M130,300 L165,250 L200,240 L660,490 C675,480 700,480 740,500 C770,512 800,525 805,545 L812,556 C830,556 850,545 870,528 L905,505 C925,510 945,525 955,550 C962,580 950,620 940,640 C925,670 910,695 895,703 C870,715 800,718 740,710 C700,705 600,680 560,660 C545,650 538,625 545,605 C555,598 575,595 590,595 L590,585 L135,340 Z"/>
  <path d="M130,300 L590,560 L590,585 M165,250 L200,300 L640,545 M200,240 L200,300" stroke-width="4"/>
  <path d="M595,580 L645,565 L690,595 L720,565 L660,530 L660,490" stroke-width="4"/>
  <path d="M600,600 C640,605 660,625 685,635 C720,642 790,645 810,635 C835,620 865,560 882,525" stroke-width="4"/>
  <circle cx="778" cy="603" r="27" fill="#fff" stroke-width="5"/>
  <path d="M145,320 C180,315 200,325 215,340 C235,355 260,345 275,345 C290,352 300,370 320,385 C340,395 365,408 380,408 C392,402 385,385 365,375 L320,352 C300,345 290,325 275,315 C260,312 245,322 230,315 C215,300 205,280 195,262" stroke-width="4"/>
  <path d="M235,350 C255,355 270,365 280,380 L310,395" stroke-width="4"/>
  <!-- arrow 2 -->
  <g fill="#151515" stroke="none">
    <circle cx="409.4" cy="234.8" r="54.6"/>
    <path d="M490.5,260.5 L509.1,270 L497.5,294.6 L478.1,284.1 Z M525.7,278.1 L546.8,288.7 L532.7,319.3 L509.8,307 Z M568,296.4 L596.2,310.5 L578.5,349.3 L548.6,333.4 Z M619,321 L652.5,335.2 L670.1,310.5 L701.9,398.6 L613.8,409.2 L627.9,386.3 L597.9,366.9 Z"/>
    <g transform="translate(387.2,206.6) scale(0.1136,0.1066) translate(-265,-258)" fill="#fff"><path d="M285,280 C350,262 440,255 520,262 C620,270 670,330 665,420 C660,490 620,530 540,565 L400,640 C385,650 380,660 385,672 L665,672 L665,770 L265,770 L265,650 C265,600 290,565 340,540 L500,455 C540,435 555,420 555,395 C555,365 535,355 500,352 C430,348 350,360 285,378 Z"/></g>
  </g>
</g>
<!-- arrow 1 : crop (1050,590) scale 1/9.255 -->
<g transform="translate(1050,590) scale(0.10805)" fill="#151515" stroke="none">
  <path d="M420,795 L500,600 L470,555 L610,470 L610,620 L575,600 Z"/>
  <circle cx="356.3" cy="911.6" r="98"/>
  <path d="M327.6,862.6 L385,862.6 L385,970.8 L352.6,970.8 L352.6,887.5 L327.6,887.5 Z" fill="#fff"/>
</g>
</svg>
<svg width="1445" height="1018" viewBox="0 0 1445 1018" style="left:0;top:0" fill="none" stroke-linecap="round" stroke-linejoin="round">
<!-- chapter 2 -->
<g transform="translate(1340,60) scale(0.088398)" fill="#217a99" stroke="none">
  <path d="M285,280 C350,262 440,255 520,262 C620,270 670,330 665,420 C660,490 620,530 540,565 L400,640 C385,650 380,660 385,672 L665,672 L665,770 L265,770 L265,650 C265,600 290,565 340,540 L500,455 C540,435 555,420 555,395 C555,365 535,355 500,352 C430,348 350,360 285,378 Z"/>
</g>
<!-- danger ! -->
<g transform="translate(510,360) scale(0.076104)" fill="#d7263f" stroke="none">
  <path d="M198,215 L340,215 L315,565 L232,565 Z M205,590 L335,590 L335,665 L205,665 Z"/>
</g>
<!-- bullets -->
<path d="M940.9,441 L956.6,448.3 L940.9,455.9 Z" fill="#111"/>
<path d="M940.9,809.6 L956.6,816.9 L940.9,824.5 Z" fill="#111"/>
<!-- icon lock -->
<g transform="translate(90,500) scale(0.078585)" stroke="#151515" stroke-width="52">
  <path d="M331,409.5 A155.5,155.5 0 0 1 642,409.5 L642,633.5 A155.5,155.5 0 0 1 331,633.5 Z"/>
  <path d="M331,512 L642,512" stroke-width="46" stroke-linecap="butt"/>
  <g fill="#151515" stroke="none"><circle cx="483" cy="618" r="43"/><path d="M462,640 L505,640 L530,716 L435,716 Z"/></g>
</g>
<!-- icon unlock -->
<g transform="translate(90,588) scale(0.078585)" stroke="#151515" stroke-width="52">
  <path d="M315,538 L620,538 L620,690 C620,770 550,825 467,825 C385,825 315,770 315,690 Z"/>
  <path d="M438,298 L560,210 C600,185 680,185 730,240 C790,300 780,400 720,450 L630,520"/>
  <g fill="#151515" stroke="none"><circle cx="460" cy="655" r="43"/><path d="M440,680 L482,680 L506,750 L414,750 Z"/></g>
</g>
<!-- icon light -->
<g transform="translate(90,676) scale(0.078585)" stroke="#151515" stroke-width="46">
  <path d="M482,305 C600,290 755,340 755,465 C755,585 610,640 482,622 C465,520 465,400 482,305 Z"/>
  <g fill="#151515" stroke="none">
    <path d="M192,378 L425,298 L425,340 L192,420 Z M192,485 L418,410 L418,452 L192,525 Z M192,592 L418,518 L418,558 L192,632 Z M192,700 L435,615 L435,655 L192,740 Z"/>
  </g>
</g>
</svg>

</body></html>
